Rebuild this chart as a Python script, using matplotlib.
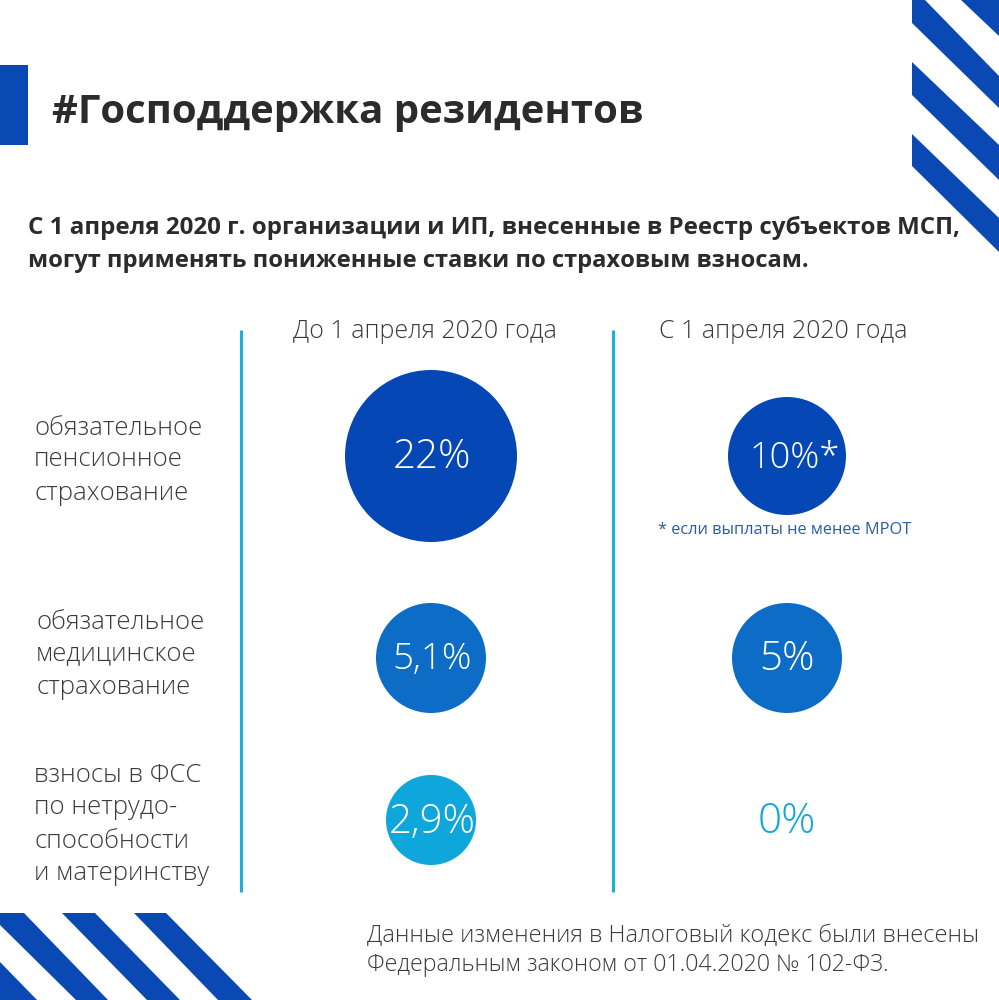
import matplotlib
matplotlib.use("Agg")
import matplotlib.pyplot as plt
from matplotlib.patches import Circle, Polygon, Rectangle

plt.rcParams['font.family'] = ['Open Sans', 'DejaVu Sans']

title = "#Господдержка резидентов"
subtitle = ["С 1 апреля 2020 г. организации и ИП, внесенные в Реестр субъектов МСП,",
            "могут применять пониженные ставки по страховым взносам."]
columns = ["До 1 апреля 2020 года", "С 1 апреля 2020 года"]
rows = [["обязательное", "пенсионное", "страхование"],
        ["обязательное", "медицинское", "страхование"],
        ["взносы в ФСС", "по нетрудо-", "способности", "и материнству"]]
before_labels = ["22%", "5,1%", "2,9%"]
after_labels = ["10%*", "5%", "0%"]
before_radius = [86, 55, 45]
after_radius = [59, 55, 0]
row_colors = ["#0547B5", "#0C6CC6", "#0FA6DC"]
footnote = "* если выплаты не менее МРОТ"
source = ["Данные изменения в Налоговый кодекс были внесены",
          "Федеральным законом от 01.04.2020 № 102-ФЗ."]

BLUE = "#0A49B4"
TEAL = "#19B2D2"
DARK = "#2B2B2B"
GREY = "#3A3A3A"

fig = plt.figure(figsize=(9.99, 10), dpi=100)
ax = fig.add_axes([0, 0, 1, 1])
ax.set_xlim(0, 999)
ax.set_ylim(1000, 0)
ax.axis("off")

# decoration
ax.add_patch(Rectangle((0, 65), 28, 80, color=BLUE, lw=0))
top_right = [[(961, 0), (999, 0), (999, 36)],
             [(912, 0), (925, 0), (999, 76), (999, 108), (912, 23)],
             [(912, 62), (999, 145), (999, 180), (912, 95)],
             [(912, 134), (999, 218), (999, 252), (912, 166)]]
bottom_left = [[(0, 962), (37, 1000), (0, 1000)],
               [(0, 913), (24, 913), (108, 1000), (76, 1000), (0, 925)],
               [(62, 913), (95, 913), (180, 1000), (147, 1000)],
               [(134, 913), (166, 913), (252, 1000), (218, 1000)]]
for poly in top_right + bottom_left:
    ax.add_patch(Polygon(poly, closed=True, color=BLUE, lw=0))

# header
ax.text(52, 113, title, fontsize=28.9, fontweight="bold", color=DARK, va="center", ha="left")
ax.text(28, 228, subtitle[0], fontsize=17.4, fontweight="bold", color=DARK, va="center", ha="left")
ax.text(28, 261, subtitle[1], fontsize=17.1, fontweight="bold", color=DARK, va="center", ha="left")

# separators
for x in (241, 613):
    ax.plot([x, x], [330, 892], color=TEAL, lw=2.2, solid_capstyle="butt")

# column heads
ax.text(425, 332, columns[0], fontsize=17.9, color=GREY, ha="center", va="center", fontweight="light")
ax.text(783, 332, columns[1], fontsize=17.9, color=GREY, ha="center", va="center", fontweight="light")

# row labels
row_x = [34, 36, 34]
row_y = [[428, 460, 493], [622, 654, 687], [776, 808, 841, 873]]
for lines, x, ys in zip(rows, row_x, row_y):
    for line, y in zip(lines, ys):
        ax.text(x, y, line, fontsize=18.5, color=GREY, ha="left", va="center", fontweight="light")

# circles
y_centers = [456, 658, 820]
before_sizes = [29, 26.5, 29]
after_sizes = [26, 29, 30.5]
after_x = [795, 787, 787]
for i, yc in enumerate(y_centers):
    ax.add_patch(Circle((431, yc), before_radius[i], color=row_colors[i], lw=0))
    ax.text(432, yc + 2, before_labels[i], fontsize=before_sizes[i], color="white", ha="center", va="center", fontweight="light")
    if after_radius[i] > 0:
        ax.add_patch(Circle((787, yc), after_radius[i], color=row_colors[i], lw=0))
    ax.text(after_x[i], yc + 2, after_labels[i], fontsize=after_sizes[i],
            color="white" if after_radius[i] > 0 else row_colors[i],
            ha="center", va="center", fontweight="light")

ax.text(785, 530, footnote, fontsize=11.8, color="#2A5CA8", ha="center", va="center")

ax.text(367, 936, source[0], fontsize=17.0, color=GREY, ha="left", va="center", fontweight="light")
ax.text(367, 965, source[1], fontsize=16.65, color=GREY, ha="left", va="center", fontweight="light")

fig.savefig("out.png", dpi=100)
